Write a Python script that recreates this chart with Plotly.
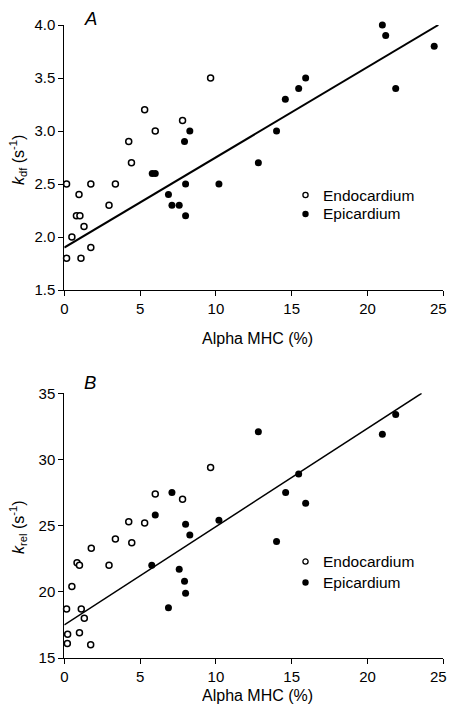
import plotly.graph_objects as go

# ---------------- Data: panel A (k_df) ----------------
endo_a_x = [0.15, 0.15, 0.5, 0.97, 0.8, 1.03, 1.3, 1.1, 1.75, 1.75, 2.95, 3.37, 4.25, 4.43, 5.3, 6.0, 7.8, 9.65]
endo_a_y = [1.8, 2.5, 2.0, 2.4, 2.2, 2.2, 2.1, 1.8, 2.5, 1.9, 2.3, 2.5, 2.9, 2.7, 3.2, 3.0, 3.1, 3.5]

epi_a_x = [5.8, 6.0, 6.87, 7.1, 7.58, 7.93, 8.28, 8.0, 8.0, 10.2,
           12.8, 14.0, 14.58, 15.46, 15.92, 20.98, 21.2, 21.86, 24.4]
epi_a_y = [2.6, 2.6, 2.4, 2.3, 2.3, 2.9, 3.0, 2.5, 2.2, 2.5,
           2.7, 3.0, 3.3, 3.4, 3.5, 4.0, 3.9, 3.4, 3.8]

fit_a_x = [0, 24.67]
fit_a_y = [1.9, 4.0]

# ---------------- Data: panel B (k_rel) ----------------
endo_b_x = [0.15, 0.22, 0.2, 0.5, 0.84, 1.0, 1.12, 1.32, 1.0, 1.74, 1.78, 2.95, 3.37, 4.25, 4.45, 5.3, 6.0, 7.8, 9.65]
endo_b_y = [18.7, 16.8, 16.1, 20.4, 22.2, 22.0, 18.7, 18.0, 16.9, 16.0, 23.3, 22.0, 24.0, 25.3, 23.7, 25.2, 27.4, 27.0, 29.4]

epi_b_x = [5.77, 6.0, 6.87, 7.1, 7.58, 8.0, 8.28, 7.93, 8.0, 10.2,
           12.8, 14.0, 14.6, 15.46, 15.92, 20.98, 21.86]
epi_b_y = [22.0, 25.8, 18.8, 27.5, 21.7, 25.1, 24.3, 20.8, 19.9, 25.4,
           32.1, 23.8, 27.5, 28.9, 26.7, 31.9, 33.4]

fit_b_x = [0, 23.57]
fit_b_y = [17.5, 35.0]

x_ticks = [0, 5, 10, 15, 20, 25]
x_tick_labels = ["0", "5", "10", "15", "20", "25"]
ya_ticks = [1.5, 2.0, 2.5, 3.0, 3.5, 4.0]
yb_ticks = [15, 20, 25, 30, 35]
legend_names = ["Endocardium", "Epicardium"]

# ---------------- Figure ----------------
# The page body has an 8px default margin; the figure is sized so the page
# fits the 456x712 window exactly.  Positions below are window pixels.
OFF = 8
W, H = 440, 696
FONT = "Liberation Sans, Arial, Helvetica, sans-serif"

def px_x(p):
    return (p - OFF) / W

def px_y(p):
    return 1 - (p - OFF) / H

fig = go.Figure()

open_marker = dict(symbol="circle", size=6, color="white", line=dict(color="black", width=1.5))
fill_marker = dict(symbol="circle", size=7, color="black", line=dict(width=0))

# Panel A
fig.add_trace(go.Scatter(x=fit_a_x, y=fit_a_y, mode="lines", line=dict(color="black", width=2),
                         xaxis="x", yaxis="y", showlegend=False, hoverinfo="skip"))
fig.add_trace(go.Scatter(x=endo_a_x, y=endo_a_y, mode="markers", marker=open_marker, name=legend_names[0],
                         xaxis="x", yaxis="y", cliponaxis=False, showlegend=False))
fig.add_trace(go.Scatter(x=epi_a_x, y=epi_a_y, mode="markers", marker=fill_marker, name=legend_names[1],
                         xaxis="x", yaxis="y", cliponaxis=False, showlegend=False))

# Panel B
fig.add_trace(go.Scatter(x=fit_b_x, y=fit_b_y, mode="lines", line=dict(color="black", width=1.5),
                         xaxis="x2", yaxis="y2", showlegend=False, hoverinfo="skip"))
fig.add_trace(go.Scatter(x=endo_b_x, y=endo_b_y, mode="markers", marker=open_marker, name=legend_names[0],
                         xaxis="x2", yaxis="y2", cliponaxis=False, showlegend=False))
fig.add_trace(go.Scatter(x=epi_b_x, y=epi_b_y, mode="markers", marker=fill_marker, name=legend_names[1],
                         xaxis="x2", yaxis="y2", cliponaxis=False, showlegend=False))

x_dom = [px_x(64.3), px_x(443.3)]

axis_common = dict(
    showline=True, linecolor="black", linewidth=1,
    ticks="outside", ticklen=5, tickwidth=1, tickcolor="black",
    showgrid=False, zeroline=False, ticklabeloverflow="allow", automargin=False,
    tickfont=dict(family=FONT, size=15, color="black"),
)

# the last x tick label sits at the page edge; it is drawn as a separate
# right-aligned text so it stays fully visible
x_axis_text = x_tick_labels[:-1] + [""]

fig.update_layout(
    width=W, height=H,
    margin=dict(l=0, r=0, t=0, b=0, autoexpand=False),
    paper_bgcolor="white", plot_bgcolor="white",
    font=dict(family=FONT, color="black"),
    xaxis=dict(domain=x_dom, range=[0, 25], tickmode="array", tickvals=x_ticks, ticktext=x_axis_text,
               anchor="y", **axis_common),
    yaxis=dict(domain=[px_y(290), px_y(25)], range=[1.5, 4.0], tickvals=ya_ticks,
               tickformat=".1f", anchor="x", **axis_common),
    xaxis2=dict(domain=x_dom, range=[0, 25], tickmode="array", tickvals=x_ticks, ticktext=x_axis_text,
                anchor="y2", **axis_common),
    yaxis2=dict(domain=[px_y(658), px_y(393.3)], range=[15, 35], tickvals=yb_ticks,
                anchor="x2", **axis_common),
    showlegend=False,
)

for py in (308, 676):
    fig.add_annotation(text=x_tick_labels[-1], x=px_x(448), y=px_y(py), xref="paper", yref="paper",
                       showarrow=False, font=dict(family=FONT, size=15, color="black"),
                       xanchor="right", yanchor="middle", borderpad=0)

# Legends (drawn as symbol + label, one per panel)
leg_font = dict(family=FONT, size=15.5, color="black")
for rows in ([195, 214], [561.5, 582.5]):
    for i, (name, py) in enumerate(zip(legend_names, rows)):
        fill = "white" if i == 0 else "black"
        lw = 1.3 if i == 0 else 0
        r = 2.6 if i == 0 else 3.2
        fig.add_shape(type="circle", xref="paper", yref="paper",
                      xsizemode="pixel", ysizemode="pixel",
                      xanchor=px_x(305.5), yanchor=px_y(py),
                      x0=-r, x1=r, y0=-r, y1=r,
                      fillcolor=fill, line=dict(color="black", width=lw))
        fig.add_annotation(text=name, x=px_x(320.5), y=px_y(py), xref="paper", yref="paper",
                           showarrow=False, font=leg_font, xanchor="left", yanchor="middle")

ann_font = dict(family=FONT, size=16, color="black")
fig.add_annotation(text="<i>A</i>", x=px_x(90), y=px_y(8), xref="paper", yref="paper",
                   showarrow=False, font=dict(family=FONT, size=18.5, color="black"),
                   xanchor="center", yanchor="top", borderpad=0, borderwidth=0)
fig.add_annotation(text="<i>B</i>", x=px_x(90), y=px_y(382), xref="paper", yref="paper",
                   showarrow=False, font=dict(family=FONT, size=18.5, color="black"),
                   xanchor="center", yanchor="middle")
fig.add_annotation(text="Alpha MHC (%)", x=px_x(257), y=px_y(338), xref="paper", yref="paper",
                   showarrow=False, font=ann_font, xanchor="center", yanchor="middle")
fig.add_annotation(text="Alpha MHC (%)", x=px_x(257), y=px_y(695), xref="paper", yref="paper",
                   showarrow=False, font=ann_font, xanchor="center", yanchor="middle",
                   height=17, borderpad=0)
fig.add_annotation(text="<i>k</i><sub>df</sub> (s<sup>-1</sup>)", x=px_x(18), y=px_y(160),
                   xref="paper", yref="paper", showarrow=False, font=ann_font, textangle=-90,
                   xanchor="center", yanchor="middle")
fig.add_annotation(text="<i>k</i><sub>rel</sub> (s<sup>-1</sup>)", x=px_x(18), y=px_y(527),
                   xref="paper", yref="paper", showarrow=False, font=ann_font, textangle=-90,
                   xanchor="center", yanchor="middle")

fig.write_html("out.html")
